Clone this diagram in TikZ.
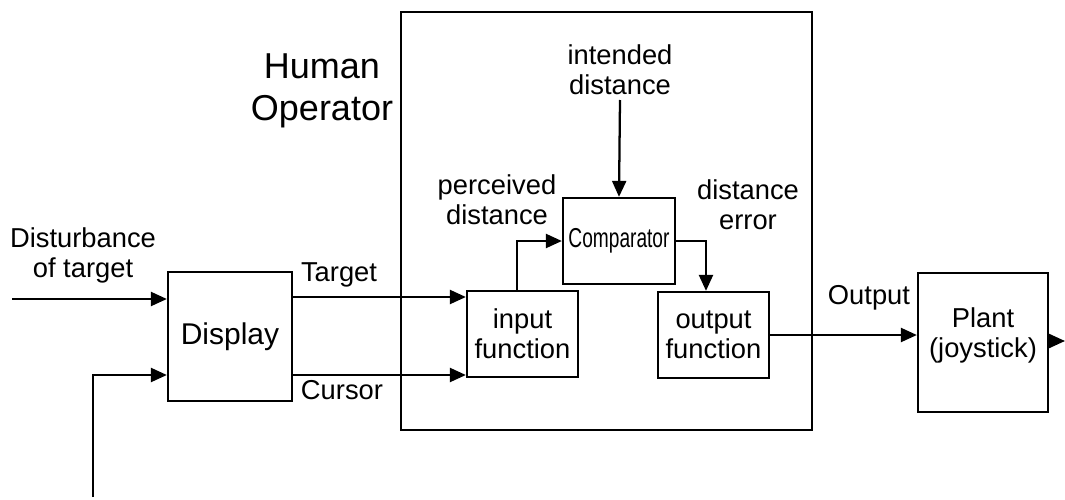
\documentclass[tikz,border=0pt]{standalone}
\usepackage{fontspec}
\setmainfont{Liberation Sans}
\usetikzlibrary{arrows.meta,calc}
\begin{document}
\begin{tikzpicture}[x=0.75pt,y=-0.75pt,
  lbl/.style={font=\fontsize{20.5}{22.5}\selectfont, align=center, inner sep=0pt},
  blk/.style 2 args={draw, line width=1.7pt, inner sep=0pt, align=center,
    minimum width=#1*0.75pt, minimum height=#2*0.75pt,
    font=\fontsize{20.5}{22.5}\selectfont},
  conn/.style={line width=1.7pt, -{Triangle[length=12pt,width=10.5pt]}}]
\useasboundingbox (0,0) rectangle (1065,500);

% blocks
\node[blk={411}{418}] (ho) at (606.5,221) {};
\node[blk={124}{129}, font=\fontsize{22.5}{24}\selectfont] (disp) at (230,336.5) {Display};
\node[blk={111}{86}] (inp) at (522.5,334) {input\\function};
\node[blk={112}{86}] (comp) at (619,241) {\scalebox{0.7}[1]{Comparator}};
\node[blk={111}{86}] (outf) at (713.5,335) {output\\function};
\node[blk={130}{139}] (plant) at (983,342.5) {};
\node[lbl] (plantlbl) at (983,335) {Plant\\(joystick)};

% labels
\node[lbl, font=\fontsize{27}{31.5}\selectfont] (holbl) at (322,91) {Human\\Operator};
\node[lbl] (distlbl) at (83,255) {Disturbance\\of target};
\node[lbl] (tgtlbl) at (339,275) {Target};
\node[lbl] (curlbl) at (342,390) {Cursor};
\node[lbl] (intlbl) at (620,70) {intended\\distance};
\node[lbl] (perlbl) at (497,200) {perceived\\distance};
\node[lbl] (errlbl) at (748,205) {distance\\error};
\node[lbl] (outlbl) at (869,298) {Output};

% free ends
\coordinate (dist) at (12,299);
\coordinate (fb) at (93,497);
\coordinate (int) at (620,100);
\coordinate (pout) at (1065,341);

% connectors
\draw[conn] (dist) -- (disp.west |- dist);
\draw[conn] (fb) |- (disp.west |- 0,375);
\draw[conn] (disp.east |- 0,297) -- (inp.west |- 0,297);
\draw[conn] (disp.east |- 0,375) -- (inp.west |- 0,375);
\draw[conn] (inp.north -| 517,0) |- (comp.west);
\draw[conn] (comp.east) -| (outf.north -| 706,0);
\draw[conn] (int) -- (comp.north);
\draw[conn] (outf.east) -- (plant.west |- outf.east);
\draw[conn] (plant.east |- pout) -- (pout);
\end{tikzpicture}
\end{document}
